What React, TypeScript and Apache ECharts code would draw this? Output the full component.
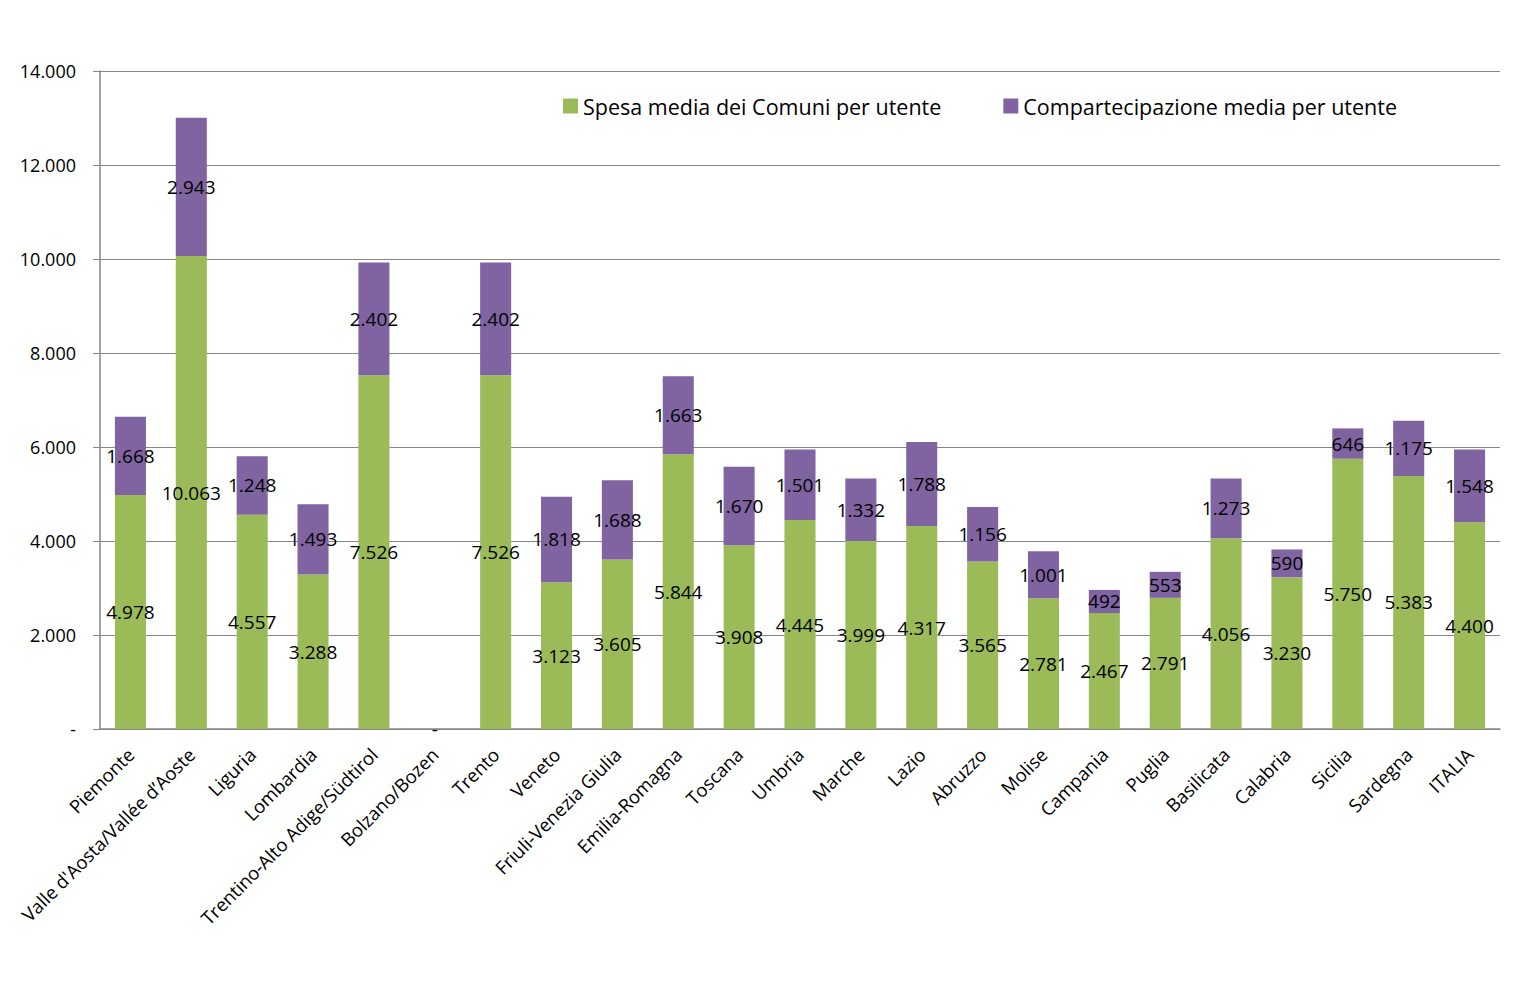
import React, { useEffect, useRef } from "react";
import * as echarts from "echarts";

const categories = [
  "Piemonte", "Valle d'Aosta/Vallée d’Aoste", "Liguria", "Lombardia", "Trentino-Alto Adige/Südtirol",
  "Bolzano/Bozen", "Trento", "Veneto", "Friuli-Venezia Giulia", "Emilia-Romagna", "Toscana", "Umbria",
  "Marche", "Lazio", "Abruzzo", "Molise", "Campania", "Puglia", "Basilicata", "Calabria", "Sicilia",
  "Sardegna", "ITALIA",
];
const spesaMedia = [4978, 10063, 4557, 3288, 7526, 0, 7526, 3123, 3605, 5844, 3908, 4445, 3999, 4317, 3565, 2781, 2467, 2791, 4056, 3230, 5750, 5383, 4400];
const compartecipazione = [1668, 2943, 1248, 1493, 2402, 0, 2402, 1818, 1688, 1663, 1670, 1501, 1332, 1788, 1156, 1001, 492, 553, 1273, 590, 646, 1175, 1548];
const seriesNames = ["Spesa media dei Comuni per utente", "Compartecipazione media per utente"];

const fmt = (v: number) => {
  if (v === 0) return "-";
  return String(Math.round(v)).replace(/\B(?=(\d{3})+(?!\d))/g, ".");
};

const FONT = "'Open Sans', 'Noto Sans', sans-serif";

export default function App() {
  const ref = useRef<HTMLDivElement>(null);
  useEffect(() => {
    if (!ref.current) return;
    const chart = echarts.init(ref.current, null, { renderer: "svg" });
    chart.setOption({
      animation: false,
      backgroundColor: "#ffffff",
      textStyle: { fontFamily: FONT },
      legend: {
        top: 90,
        left: 558,
        itemWidth: 15,
        itemHeight: 15,
        itemGap: 62,
        icon: "rect",
        textStyle: { fontSize: 21.5, color: "#000", fontFamily: FONT },
        data: seriesNames,
      },
      grid: { left: 100, right: 23, top: 71, bottom: 271, containLabel: false },
      xAxis: {
        type: "category",
        data: categories,
        axisLine: { lineStyle: { color: "#868686", width: 1.5 } },
        axisTick: { show: false },
        axisLabel: { rotate: 45, fontSize: 18.5, color: "#000", margin: 22, interval: 0, fontFamily: FONT },
      },
      yAxis: {
        type: "value",
        min: 0,
        max: 14000,
        interval: 2000,
        axisLine: { show: true, lineStyle: { color: "#868686", width: 1.5 } },
        axisTick: { show: true, length: 7, lineStyle: { color: "#868686" } },
        splitLine: { lineStyle: { color: "#868686", width: 1 } },
        axisLabel: { formatter: (v: number) => fmt(v), fontSize: 18, color: "#000", margin: 24, fontFamily: FONT },
      },
      series: [
        {
          name: seriesNames[0],
          type: "bar",
          stack: "total",
          barWidth: "51%",
          data: spesaMedia,
          itemStyle: { color: "#9BBB59" },
          label: {
            show: true,
            position: "inside",
            color: "#000",
            fontSize: 19,
            fontFamily: FONT,
            formatter: (p: any) => fmt(p.value),
          },
        },
        {
          name: seriesNames[1],
          type: "bar",
          stack: "total",
          barWidth: "51%",
          data: compartecipazione,
          itemStyle: { color: "#8064A2" },
          label: {
            show: true,
            position: "inside",
            color: "#000",
            fontSize: 19,
            fontFamily: FONT,
            formatter: (p: any) => (p.value === 0 ? "" : fmt(p.value)),
          },
        },
      ],
    });
    return () => chart.dispose();
  }, []);
  return (
    <div
      ref={ref}
      style={{ position: "fixed", left: 0, top: 0, width: 1523, height: 1000, background: "#fff" }}
    />
  );
}
